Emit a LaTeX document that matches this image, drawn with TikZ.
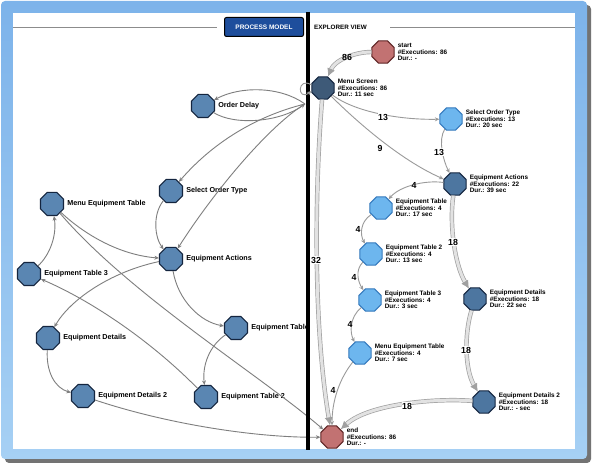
\documentclass[tikz,border=0pt]{standalone}
\usepackage{fontspec}
\setmainfont{Liberation Sans}
\usetikzlibrary{shapes.geometric,arrows.meta}
\definecolor{nodeL}{HTML}{5A86B2}
\definecolor{nodeLb}{HTML}{14253F}
\definecolor{nodeDk}{HTML}{3E5A78}
\definecolor{nodeMd}{HTML}{4D76A0}
\definecolor{nodeLt}{HTML}{6DB6EE}
\definecolor{nodeLtb}{HTML}{3579BD}
\definecolor{nodeRd}{HTML}{C27272}
\definecolor{nodeRdb}{HTML}{5E2525}
\definecolor{edgeG}{HTML}{7E7E7E}
\definecolor{edgeR}{HTML}{9A9A9A}
\definecolor{thickG}{HTML}{A0A0A0}
\definecolor{thickF}{HTML}{E2E2E2}
\definecolor{frameT}{HTML}{7DB3EA}
\definecolor{frameBt}{HTML}{A6D0F4}
\definecolor{btnB}{HTML}{1E4E9C}
\tikzset{
  oct/.style={regular polygon, regular polygon sides=8, inner sep=0pt, line width=1.1pt},
  lnode/.style={oct, minimum size=25pt, fill=nodeL, draw=nodeLb},
  dnode/.style={oct, minimum size=24pt, fill=nodeDk, draw=nodeLb},
  mnode/.style={oct, minimum size=24pt, fill=nodeMd, draw=nodeLb},
  tnode/.style={oct, minimum size=24pt, fill=nodeLt, draw=nodeLtb},
  rnode/.style={oct, minimum size=24pt, fill=nodeRd, draw=nodeRdb},
  llab/.style={font=\bfseries\fontsize{7.2}{8}\selectfont, anchor=west, inner sep=0pt},
  rlab/.style={font=\bfseries\fontsize{6.4}{6.7}\selectfont, anchor=west, align=left, inner sep=0pt},
  thinedge/.style={draw=edgeG, line width=0.9pt, -{Stealth[length=4.5pt,width=4pt]}},
  rthin/.style={draw=edgeR, line width=0.9pt, -{Stealth[length=4.5pt,width=4pt]}},
  thickedge/.style={draw=thickG, double=thickF, double distance=3pt, line width=0.7pt, -{Latex[length=8pt,width=8pt]}},
  elab/.style={font=\bfseries\fontsize{8.8}{9}\selectfont, inner sep=0.6pt, fill=white},
  btn/.style={draw=black, line width=1pt, fill=btnB, rounded corners=2pt, text=white,
    font=\bfseries\fontsize{6.5}{7}\selectfont, minimum width=79pt, minimum height=19pt, inner sep=0pt}
}
\begin{document}
\begin{tikzpicture}[x=1pt,y=-1pt]
\useasboundingbox (0,0) rectangle (595,470);
% window frame
\fill[black!55, rounded corners=4pt] (5,5) rectangle (591,463);
\shade[top color=frameT, bottom color=frameBt, rounded corners=4pt] (1,1) rectangle (587,459);
\fill[white] (13,13) rectangle (575,449);
% header
\draw[black!45, line width=0.8pt] (13,27) -- (217,27);
\draw[black!45, line width=0.8pt] (390,27) -- (575,27);
\node[btn] (pm) at (264,27) {PROCESS MODEL};
\node[anchor=west, inner sep=0pt, font=\bfseries\fontsize{6.3}{7}\selectfont] (ev) at (314,27) {EXPLORER VIEW};

% ---------------- left panel: process model ----------------
\coordinate (lms) at (305,104);
\node[lnode] (lod) at (203,106) {};
\node[lnode] (lsot) at (171,191) {};
\node[lnode] (lmet) at (52,204) {};
\node[lnode] (lea) at (171,259) {};
\node[lnode] (let3) at (29,274) {};
\node[lnode] (led) at (48,338) {};
\node[lnode] (let) at (236,328) {};
\node[lnode] (led2) at (83,396) {};
\node[lnode] (let2) at (206,397) {};
\node[llab] (lodL) at ([xshift=3pt]lod.east) {Order Delay};
\node[llab] (lsotL) at ([xshift=3pt]lsot.east) {Select Order Type};
\node[llab] (lmetL) at ([xshift=3pt]lmet.east) {Menu Equipment Table};
\node[llab] (leaL) at ([xshift=3pt]lea.east) {Equipment Actions};
\node[llab] (let3L) at ([xshift=3pt]let3.east) {Equipment Table 3};
\node[llab] (ledL) at ([xshift=3pt]led.east) {Equipment Details};
\node[llab] (letL) at ([xshift=3pt]let.east) {Equipment Table};
\node[llab] (led2L) at ([xshift=3pt]led2.east) {Equipment Details 2};
\node[llab] (let2L) at ([xshift=3pt]let2.east) {Equipment Table 2};

\coordinate (endpos) at (332,437);

\draw[thinedge] (lms) .. controls (280,86) and (240,86) .. (lod);
\draw[thinedge] (lod) .. controls (235,126) and (280,122) .. (lms);
\draw[thinedge] (lms) .. controls (260,115) and (215,140) .. (lsot);
\draw[thinedge] (lms) .. controls (270,125) and (215,190) .. (lea);
\draw[thinedge] (lsot) .. controls (152,215) and (155,238) .. (lea);
\draw[thinedge] (lmet) .. controls (85,235) and (120,255) .. (lea);
\draw[thinedge] (let3) .. controls (50,255) and (57,235) .. (lmet);
\draw[thinedge] (lea) .. controls (110,272) and (70,300) .. (led);
\draw[thinedge] (lea) .. controls (178,300) and (200,322) .. (let);
\draw[thinedge] (let) .. controls (210,345) and (202,365) .. (let2);
\draw[thinedge] (let2) .. controls (150,340) and (90,300) .. (let3);
\draw[thinedge] (led) .. controls (46,372) and (55,388) .. (led2);

% ---------------- right panel: explorer view ----------------
\node[rnode] (st) at (383,52) {};
\node[dnode] (ms) at (323,88) {};
\node[tnode] (sot) at (451,119) {};
\node[mnode] (ea) at (455,184) {};
\node[tnode] (et) at (381,208) {};
\node[tnode] (et2) at (371,254) {};
\node[tnode] (et3) at (370,300) {};
\node[mnode] (ed) at (475,299) {};
\node[tnode] (met) at (360,353) {};
\node[mnode] (ed2) at (484,402) {};
\node[rnode] (end) at (endpos) {};

% left edges into end (pass under the divider)
\draw[thinedge] (lmet) .. controls (130,295) and (260,375) .. (end);
\draw[thinedge] (led2) .. controls (170,425) and (260,438) .. (end);

% divider
\draw[line width=4.5pt] (308,12) -- (308,450);

% self loop of Menu Screen
\draw[rthin] (ms.165) .. controls (297,76) and (297,102) .. (ms.195);

% right edges
\draw[thickedge] (st) .. controls (355,52) and (335,60) .. (ms);
\draw[thickedge] (ms) .. controls (314,200) and (314,330) .. (end);
\draw[rthin] (ms) .. controls (355,112) and (400,120) .. (sot);
\draw[rthin] (ms) .. controls (355,120) and (400,160) .. (ea);
\draw[rthin] (sot) .. controls (438,140) and (443,160) .. (ea);
\draw[rthin] (ea) .. controls (425,180) and (400,186) .. (et);
\draw[rthin] (et) .. controls (360,222) and (360,235) .. (et2);
\draw[rthin] (et2) .. controls (355,270) and (358,282) .. (et3);
\draw[rthin] (et3) .. controls (349,318) and (350,333) .. (met);
\draw[rthin] (met) .. controls (340,378) and (332,400) .. (end);
\draw[thickedge] (ea) .. controls (449,225) and (455,265) .. (ed);
\draw[thickedge] (ed) .. controls (464,335) and (465,370) .. (ed2);
\draw[thickedge] (ed2) .. controls (440,398) and (370,403) .. (end);

% edge labels
\node[elab, fill=none] (l86) at (347,57) {86};
\node[elab] (l32) at (316,260) {32};
\node[elab] (l13a) at (383,117) {13};
\node[elab, fill=none] (l9) at (380,148) {9};
\node[elab] (l13b) at (439,152) {13};
\node[elab, fill=none] (l4a) at (414,185) {4};
\node[elab, fill=none] (l4b) at (358,229) {4};
\node[elab, fill=none] (l4c) at (354,277) {4};
\node[elab, fill=none] (l4d) at (350,324) {4};
\node[elab, fill=none] (l4e) at (333,390) {4};
\node[elab] (l18a) at (453,242) {18};
\node[elab] (l18b) at (466,350) {18};
\node[elab] (l18c) at (407,406) {18};

% right node labels
\node[rlab] (stL) at ([xshift=3pt]st.east) {start\\\#Executions: 86\\Dur.: -};
\node[rlab] (msL) at ([xshift=3pt]ms.east) {Menu Screen\\\#Executions: 86\\Dur.: 11 sec};
\node[rlab] (sotL) at ([xshift=3pt]sot.east) {Select Order Type\\\#Executions: 13\\Dur.: 20 sec};
\node[rlab] (eaL) at ([xshift=3pt]ea.east) {Equipment Actions\\\#Executions: 22\\Dur.: 39 sec};
\node[rlab] (etL) at ([xshift=3pt]et.east) {Equipment Table\\\#Executions: 4\\Dur.: 17 sec};
\node[rlab] (et2L) at ([xshift=3pt]et2.east) {Equipment Table 2\\\#Executions: 4\\Dur.: 13 sec};
\node[rlab] (et3L) at ([xshift=3pt]et3.east) {Equipment Table 3\\\#Executions: 4\\Dur.: 3 sec};
\node[rlab] (edL) at ([xshift=3pt]ed.east) {Equipment Details\\\#Executions: 18\\Dur.: 22 sec};
\node[rlab] (metL) at ([xshift=3pt]met.east) {Menu Equipment Table\\\#Executions: 4\\Dur.: 7 sec};
\node[rlab] (ed2L) at ([xshift=3pt]ed2.east) {Equipment Details 2\\\#Executions: 18\\Dur.: - sec};
\node[rlab] (endL) at ([xshift=3pt]end.east) {end\\\#Executions: 86\\Dur.: -};
\end{tikzpicture}
\end{document}
